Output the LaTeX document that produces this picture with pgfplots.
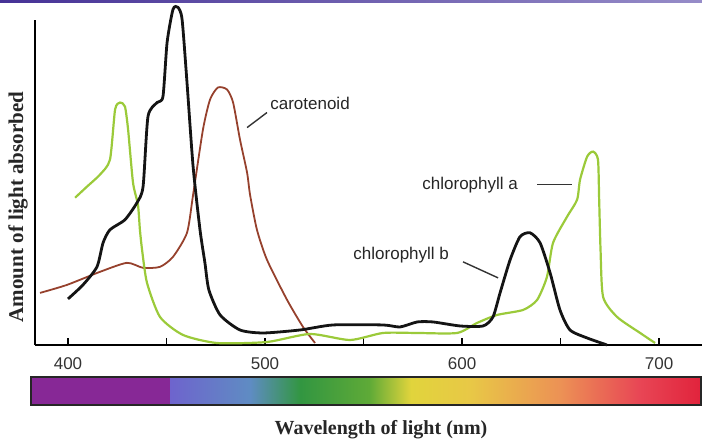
\documentclass[border=0pt]{standalone}
\usepackage{pgfplots}
\pgfplotsset{compat=1.18}
\usepackage{fontspec}
\setmainfont{Liberation Serif}
\setsansfont{Liberation Sans}
\definecolor{chla}{RGB}{155,202,58}
\definecolor{carot}{RGB}{150,65,45}
\definecolor{chlb}{RGB}{20,20,20}
\definecolor{topA}{RGB}{70,50,150}
\definecolor{topB}{RGB}{150,140,200}
\definecolor{sp1}{RGB}{135,40,150}
\definecolor{sp2}{RGB}{110,100,205}
\definecolor{sp3}{RGB}{95,140,195}
\definecolor{sp4}{RGB}{50,150,65}
\definecolor{sp5}{RGB}{95,170,55}
\definecolor{sp6}{RGB}{225,212,60}
\definecolor{sp7}{RGB}{232,200,70}
\definecolor{sp8}{RGB}{236,145,85}
\definecolor{sp9}{RGB}{232,70,85}
\definecolor{sp10}{RGB}{225,35,60}
\begin{document}
\begin{tikzpicture}
\path[use as bounding box] (0,0) rectangle (351pt,223pt);
\shade[left color=topA, right color=topB] (0,221.6pt) rectangle (351pt,223pt);
\begin{axis}[
  at={(17.5pt,50.5pt)}, anchor=south west,
  scale only axis, width=333.5pt, height=162pt,
  xmin=383.25, xmax=721.8, ymin=0, ymax=324,
  axis lines=left,
  axis line style={-, line width=1.3pt},
  ytick=\empty,
  xtick={400,450,500,550,600,650,700},
  xticklabels={400,,500,,600,,700},
  tick align=inside, major tick length=3.5pt,
  every tick/.style={black, line width=0.8pt},
  xticklabel style={font=\sffamily\fontsize{8.5}{9}\selectfont, text=black!80, yshift=-3pt},
  clip=false,
]
% spectrum bar
\fill[sp1] (axis cs:381.2,-32) rectangle (axis cs:451.8,-60);
\shade[left color=sp2, right color=sp3] (axis cs:451.8,-32) rectangle (axis cs:492.4,-60);
\shade[left color=sp3, right color=sp4] (axis cs:492.4,-32) rectangle (axis cs:518,-60);
\shade[left color=sp4, right color=sp5] (axis cs:518,-32) rectangle (axis cs:553,-60);
\shade[left color=sp5, right color=sp6] (axis cs:553,-32) rectangle (axis cs:574,-60);
\shade[left color=sp6, right color=sp7] (axis cs:574,-32) rectangle (axis cs:604,-60);
\shade[left color=sp7, right color=sp8] (axis cs:604,-32) rectangle (axis cs:650,-60);
\shade[left color=sp8, right color=sp9] (axis cs:650,-32) rectangle (axis cs:690,-60);
\shade[left color=sp9, right color=sp10] (axis cs:690,-32) rectangle (axis cs:721.3,-60);
\draw[line width=0.8pt, black!85] (axis cs:381.2,-32) rectangle (axis cs:721.3,-60);
% carotenoid
\addplot[carot, line width=0.9pt, smooth, tension=0.4] coordinates {
(385.8,52) (399.5,60) (416.2,73) (429.9,82) (438.1,77) (446.7,78) (453.3,88)
(460.4,112) (463.5,150) (468.5,215) (472.1,245) (476.1,257) (480.7,255)
(483.8,242) (487.3,205) (490.9,172) (492.4,150) (495.9,115) (501.0,85)
(511.2,45) (519.3,18) (525.4,2)};
% chlorophyll a
\addplot[chla, line width=1.1pt, smooth, tension=0.4] coordinates {
(403.6,147) (409.6,158) (416.2,170) (421.3,185) (423.9,235) (426.4,242)
(428.9,238) (430.5,215) (433.0,162) (435.5,140) (436.5,115) (437.6,95)
(440.1,62) (446.7,28) (458.4,10) (475.6,2) (501.0,3) (522.8,11) (543.1,5)
(559.9,12) (577.2,12) (597.5,12) (607.6,22) (617.8,30) (631.0,35) (638.1,45)
(643.1,68) (646.2,102) (653.3,128) (658.4,145) (659.9,165) (663.5,188)
(666.5,193) (669.0,185) (669.6,145) (670.3,95) (671.6,48) (678.7,28)
(690.4,12) (698.0,2)};
% chlorophyll b
\addplot[chlb, line width=1.4pt, smooth, tension=0.4] coordinates {
(400.0,46) (407.6,60) (414.7,78) (417.8,102) (421.3,115) (428.9,125)
(435.0,142) (438.1,158) (440.6,228) (445.2,242) (448.2,248) (450.3,302)
(453.3,335) (455.8,337) (457.9,325) (460.4,262) (463.5,178) (467.0,115)
(469.5,82) (471.5,55) (477.2,30) (487.3,15) (499.0,12) (517.8,15) (534.5,20)
(559.9,20) (568.5,18) (577.2,23) (585.3,23) (599.0,19) (610.7,19)
(615.7,28) (619.3,52) (624.4,85) (629.4,108) (634.5,112) (639.6,102)
(644.7,72) (649.7,35) (654.8,15) (663.5,7) (673.6,0)};
% labels
\draw[black!80, line width=0.7pt] (axis cs:490.9,217) -- (axis cs:501.0,232);
\node[anchor=west, inner sep=0pt, font=\sffamily\fontsize{8.5}{9}\selectfont, text=black!85] at (axis cs:502.5,241) {carotenoid};
\draw[black!80, line width=0.7pt] (axis cs:638.1,160) -- (axis cs:655.8,160);
\node[anchor=west, inner sep=0pt, font=\sffamily\fontsize{8.5}{9}\selectfont, text=black!85] at (axis cs:579.7,160) {chlorophyll a};
\draw[black!80, line width=0.7pt] (axis cs:600.5,83) -- (axis cs:618.3,67);
\node[anchor=west, inner sep=0pt, font=\sffamily\fontsize{8.5}{9}\selectfont, text=black!85] at (axis cs:544.7,90) {chlorophyll b};
\end{axis}
\node[rotate=90, font=\bfseries\fontsize{10.5}{11}\selectfont, text=black!85] at (9pt,119.5pt) {Amount of light absorbed};
\node[font=\bfseries\fontsize{10}{11}\selectfont, text=black!85] at (190.5pt,8pt) {Wavelength of light (nm)};
\end{tikzpicture}
\end{document}
